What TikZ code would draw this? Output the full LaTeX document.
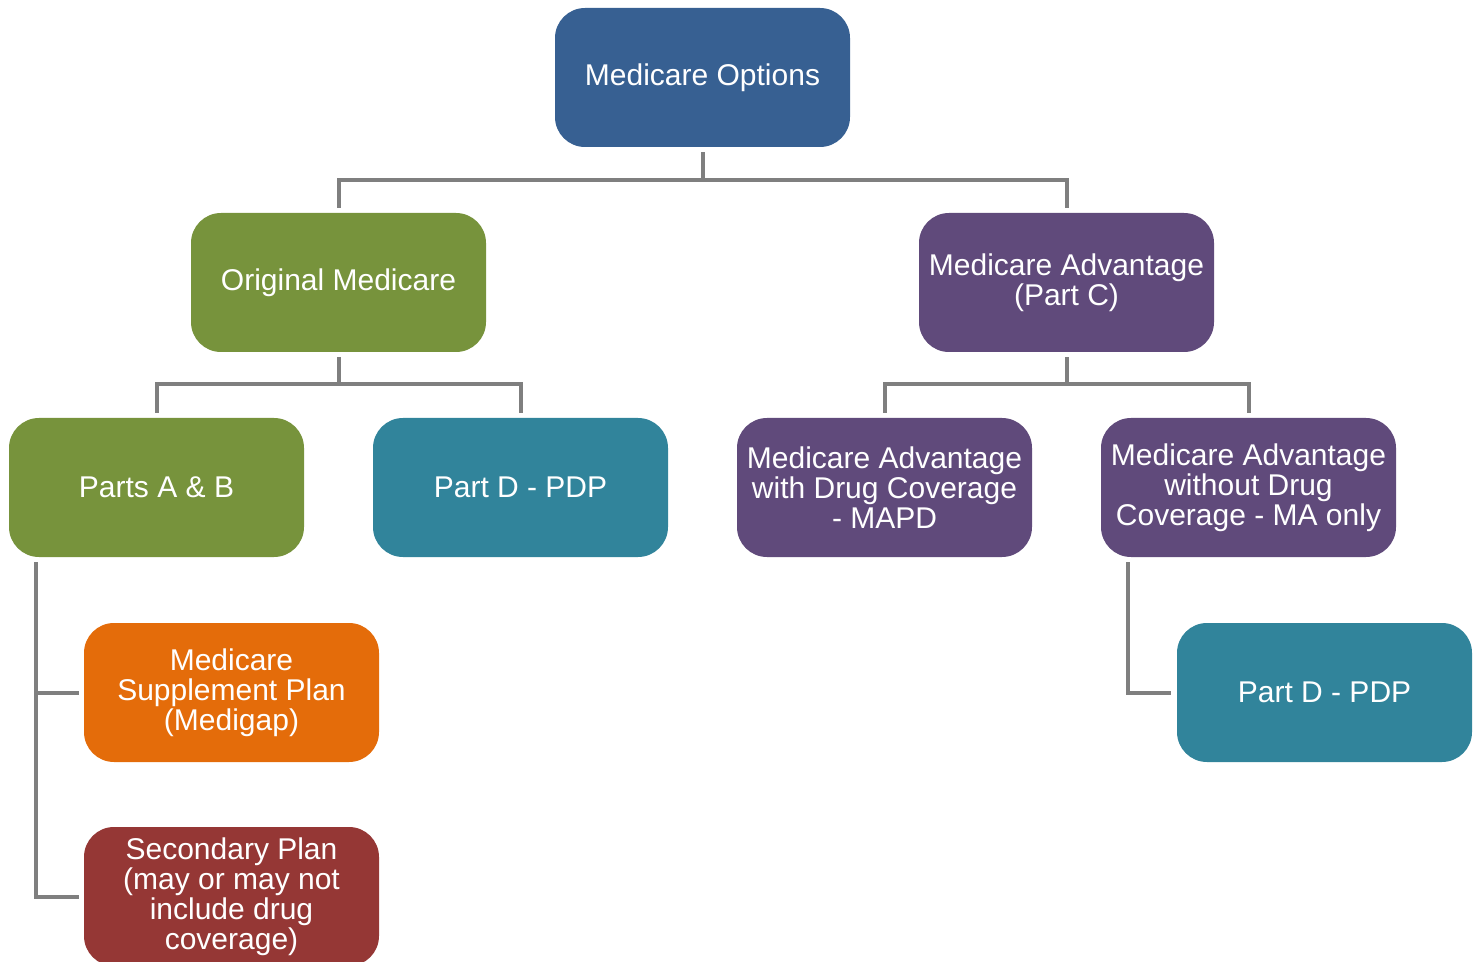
\documentclass[tikz,border=0pt]{standalone}
\usepackage{fontspec}
\setmainfont{Liberation Sans}
\begin{document}
\begin{tikzpicture}[x=0.5pt,y=-0.5pt,
  box/.style={rounded corners=15pt, minimum width=147.5pt, minimum height=69.5pt, inner sep=0pt,
    text=white, align=center, font=\fontsize{15pt}{15pt}\selectfont},
  conn/.style={draw=connGray, line width=2pt}]
\definecolor{cBlue}{HTML}{376092}
\definecolor{cGreen}{HTML}{77933C}
\definecolor{cPurple}{HTML}{604A7B}
\definecolor{cTeal}{HTML}{31849B}
\definecolor{cOrange}{HTML}{E46C0A}
\definecolor{cRed}{HTML}{953735}
\definecolor{connGray}{HTML}{7F7F7F}
\useasboundingbox (0,0) rectangle (1478,962);
\clip (0,0) rectangle (1478,962);
\node[box, fill=cBlue] (opt) at (702.5,77.5) {Medicare Options};
\node[box, fill=cGreen] (orig) at (338.5,282.5) {Original Medicare};
\node[box, fill=cPurple] (adv) at (1066.5,282.5) {Medicare Advantage\\(Part C)};
\node[box, fill=cGreen] (ab) at (156.5,487.5) {Parts A \& B};
\node[box, fill=cTeal] (pdl) at (520.5,487.5) {Part D - PDP};
\node[box, fill=cPurple] (mapd) at (884.5,487.5) {Medicare Advantage\\with Drug Coverage\\- MAPD};
\node[box, fill=cPurple] (maonly) at (1248.5,487.5) {Medicare Advantage\\without Drug\\Coverage - MA only};
\node[box, fill=cOrange] (medigap) at (231.5,692.5) {Medicare\\Supplement Plan\\(Medigap)};
\node[box, fill=cRed] (sec) at (231.5,896.5) {Secondary Plan\\(may or may not\\include drug\\coverage)};
\node[box, fill=cTeal] (pdr) at (1324.5,692.5) {Part D - PDP};
% junctions
\coordinate (j1) at (702.5,180);
\coordinate (j2) at (338.5,384);
\coordinate (j3) at (1066.5,384);
\draw[conn] ([yshift=-2.5pt]opt.south) -- (j1);
\draw[conn] ([yshift=2.5pt]orig.north) |- (j1);
\draw[conn] ([yshift=2.5pt]adv.north) |- (j1);
\draw[conn] ([yshift=-2.5pt]orig.south) -- (j2);
\draw[conn] ([yshift=2.5pt]ab.north) |- (j2);
\draw[conn] ([yshift=2.5pt]pdl.north) |- (j2);
\draw[conn] ([yshift=-2.5pt]adv.south) -- (j3);
\draw[conn] ([yshift=2.5pt]mapd.north) |- (j3);
\draw[conn] ([yshift=2.5pt]maonly.north) |- (j3);
\coordinate (abL) at ([xshift=13.5pt,yshift=-2.5pt]ab.south west);
\draw[conn] (abL) |- ([xshift=-2.5pt]medigap.west);
\draw[conn] (abL) |- ([xshift=-2.5pt]sec.west);
\coordinate (maL) at ([xshift=13.5pt,yshift=-2.5pt]maonly.south west);
\draw[conn] (maL) |- ([xshift=-3pt]pdr.west);
\end{tikzpicture}
\end{document}
